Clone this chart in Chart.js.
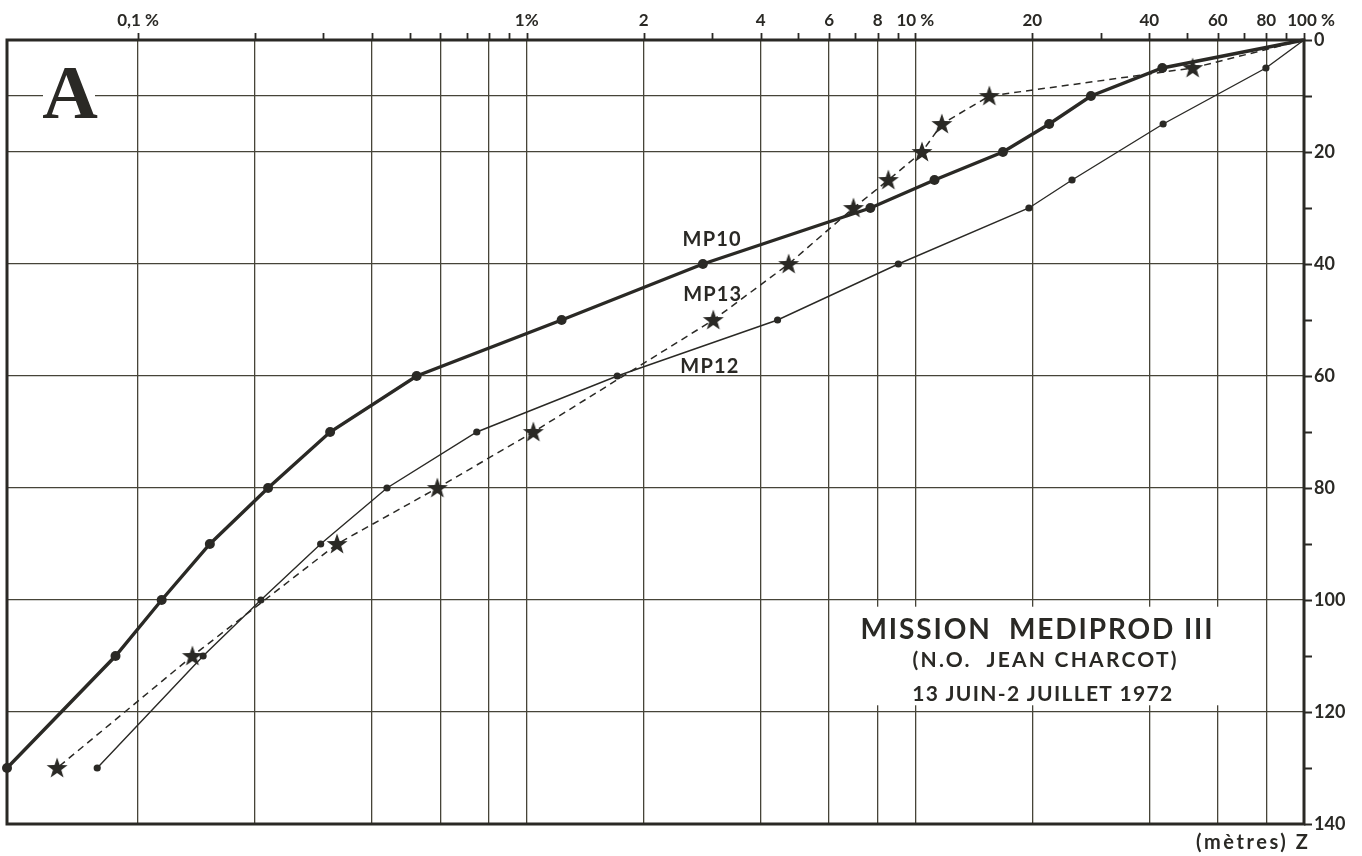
<!DOCTYPE html>
<html>
<head>
<meta charset="utf-8">
<script src="https://cdn.jsdelivr.net/npm/chart.js@4.4.1/dist/chart.umd.min.js"></script>
<style>
  html, body { margin: 0; padding: 0; background: #ffffff; }
  canvas { display: block; }
</style>
</head>
<body>
<canvas id="chart" width="1362" height="856"></canvas>
<script>
// Cumulative light (% of surface) versus depth (m) at three stations
const mp10Depth = [0, 5, 10, 15, 20, 25, 30, 40, 50, 60, 70, 80, 90, 100, 110, 130];
const mp10Pct   = [100, 43.2, 28.3, 22.1, 16.8, 11.2, 7.66, 2.84, 1.23, 0.521, 0.312, 0.216, 0.153, 0.115, 0.0875, 0.046];

const mp12Depth = [0, 5, 15, 25, 30, 40, 50, 60, 70, 80, 90, 100, 110, 130];
const mp12Pct   = [100, 79.8, 43.4, 25.3, 19.6, 9.04, 4.42, 1.71, 0.744, 0.437, 0.295, 0.207, 0.147, 0.0785];

const mp13Depth = [0, 5, 10, 15, 20, 25, 30, 40, 50, 70, 80, 90, 110, 130];
const mp13Pct   = [100, 51.7, 15.5, 11.7, 10.4, 8.52, 6.93, 4.72, 3.02, 1.04, 0.589, 0.325, 0.138, 0.0619];

// Percentage axis (logarithmic, on top)
const pctMin = 0.046;
const pctMax = 100;
const pctTickValues = [0.1, 0.2, 0.3, 0.4, 0.5, 0.6, 0.7, 0.8, 0.9,
                       1, 2, 3, 4, 5, 6, 7, 8, 9,
                       10, 20, 30, 40, 50, 60, 70, 80, 90, 100];
const pctGridValues = [0.1, 0.2, 0.4, 0.6, 0.8, 1, 2, 4, 6, 8, 10, 20, 40, 60, 80];
const pctLabelValues = [0.1, 1, 2, 4, 6, 8, 10, 20, 40, 60, 80, 100];
const pctLabelTexts  = ['0,1 %', '1%', '2', '4', '6', '8', '10 %', '20', '40', '60', '80', '100 %'];

// Depth axis (metres, on the right)
const depthMin = 0;
const depthMax = 140;
const depthTickStep = 10;
const depthLabelStep = 20;
const depthGridValues = [10, 20, 40, 60, 80, 100, 120];

// Curve names, placed in data coordinates [percent, depth]
const curveNames = ['MP10', 'MP13', 'MP12'];
const curveNameAnchors = [[2.99, 35.6], [3.0, 45.4], [2.95, 58.3]];

// Title block: text lines and their anchors [percent, depth]
const titleLines = ['MISSION  MEDIPROD III', '(N.O.  JEAN CHARCOT)', '13 JUIN-2 JUILLET 1972'];
const titleAnchors = [[20.5, 105.4], [21.5, 110.8], [21.2, 116.9]];
const titleField = [6.6, 72, 101.2, 118.8];   // percent from, percent to, depth from, depth to
const panelLetter = 'A';
const depthUnit = '(mètres) Z';

const INK = '#2a2925';
const GRID = 'rgb(70,68,56)';
const SANS = 'Lato, "Noto Sans", "DejaVu Sans", sans-serif';

const near = (a, list) => list.some(v => Math.abs(v - a) / v < 1e-6);
const toPoints = (pct, depth) => pct.map((p, i) => ({ x: p, y: depth[i] }));

function makeStar(outer, inner, color) {
  const size = 24;
  const c = document.createElement('canvas');
  c.width = size; c.height = size;
  const g = c.getContext('2d');
  g.fillStyle = color;
  g.beginPath();
  for (let i = 0; i < 10; i++) {
    const r = i % 2 ? inner : outer;
    const a = -Math.PI / 2 + i * Math.PI / 5;
    const px = size / 2 + r * Math.cos(a);
    const py = size / 2 + 0.6 + r * Math.sin(a);
    if (i) g.lineTo(px, py); else g.moveTo(px, py);
  }
  g.closePath();
  g.fill();
  return c;
}
const starMark = makeStar(11, 4.4, INK);

// Draw text stretched to a given width by spreading the letters
function spreadText(ctx, text, cx, cy, font, width) {
  ctx.font = font;
  ctx.letterSpacing = '0px';
  const w0 = ctx.measureText(text).width;
  const n = [...text].length;
  const ls = n > 1 ? (width - w0) / (n - 1) : 0;
  ctx.letterSpacing = ls.toFixed(2) + 'px';
  ctx.textAlign = 'left';
  ctx.textBaseline = 'middle';
  ctx.fillText(text, cx - width / 2, cy);
  ctx.letterSpacing = '0px';
}

const decorations = {
  id: 'decorations',
  beforeDatasetsDraw(chart) {
    const { ctx, chartArea: a, scales } = chart;
    const xs = scales.x, ys = scales.y;
    ctx.save();

    // white field behind the panel letter and the title block
    ctx.fillStyle = '#ffffff';
    ctx.fillRect(43, 66, 52, 50);
    const tl = xs.getPixelForValue(titleField[0]), tr = xs.getPixelForValue(titleField[1]);
    const tt = ys.getPixelForValue(titleField[2]), tb = ys.getPixelForValue(titleField[3]);
    ctx.fillRect(tl, tt, tr - tl, tb - tt);

    // frame
    ctx.strokeStyle = INK;
    ctx.lineWidth = 3;
    ctx.strokeRect(a.left, a.top, a.right - a.left, a.bottom - a.top);

    // tick marks outside the frame
    ctx.lineWidth = 1.8;
    ctx.beginPath();
    pctTickValues.forEach(v => {
      const x = Math.round(xs.getPixelForValue(v)) + 0.5;
      ctx.moveTo(x, a.top);
      ctx.lineTo(x, a.top - 7);
    });
    for (let d = depthMin; d <= depthMax; d += depthTickStep) {
      const y = Math.round(ys.getPixelForValue(d)) + 0.5;
      ctx.moveTo(a.right, y);
      ctx.lineTo(a.right + 8, y);
    }
    ctx.stroke();

    // panel letter
    ctx.fillStyle = INK;
    ctx.font = 'bold 77px "Liberation Serif", "DejaVu Serif", serif';
    ctx.textAlign = 'center';
    ctx.textBaseline = 'alphabetic';
    ctx.fillText(panelLetter, 70, 118);

    // percentage labels above the top axis
    ctx.font = 'bold 17px ' + SANS;
    ctx.textBaseline = 'middle';
    pctLabelValues.forEach((v, i) => {
      const x = xs.getPixelForValue(v);
      const text = pctLabelTexts[i];
      if (v === pctMax) {
        const num = text.replace(/\s*%$/, '');
        const wNum = ctx.measureText(num).width;
        ctx.textAlign = 'left';
        ctx.fillText(text, x - wNum / 2 - 2, 21);
      } else {
        ctx.textAlign = 'center';
        ctx.fillText(text, x, 21);
      }
    });

    // title block
    const titleFonts = ['bold 28px ' + SANS, 'bold 21px ' + SANS, 'bold 21px ' + SANS];
    const titleWidths = [352, 264, 260];
    titleLines.forEach((line, i) => {
      const [p, d] = titleAnchors[i];
      spreadText(ctx, line, xs.getPixelForValue(p), ys.getPixelForValue(d), titleFonts[i], titleWidths[i]);
    });

    // curve names
    curveNames.forEach((name, i) => {
      const [p, d] = curveNameAnchors[i];
      spreadText(ctx, name, xs.getPixelForValue(p), ys.getPixelForValue(d), 'bold 20px ' + SANS, 58);
    });

    // depth unit under the right axis
    spreadText(ctx, depthUnit, a.right - 52, a.bottom + 19, 'bold 20px ' + SANS, 112);

    ctx.restore();
  }
};

new Chart(document.getElementById('chart'), {
  type: 'scatter',
  data: {
    datasets: [
      {
        label: 'MP10',
        data: toPoints(mp10Pct, mp10Depth),
        showLine: true,
        borderColor: INK,
        borderWidth: 3.4,
        pointBackgroundColor: INK,
        pointBorderColor: INK,
        pointBorderWidth: 0,
        pointRadius: c => (c.dataIndex === 0 ? 0 : 5),
        clip: false
      },
      {
        label: 'MP12',
        data: toPoints(mp12Pct, mp12Depth),
        showLine: true,
        borderColor: INK,
        borderWidth: 1.4,
        pointBackgroundColor: INK,
        pointBorderColor: INK,
        pointBorderWidth: 0,
        pointRadius: c => (c.dataIndex === 0 ? 0 : 3.6),
        clip: false
      },
      {
        label: 'MP13',
        data: toPoints(mp13Pct, mp13Depth),
        showLine: true,
        borderColor: INK,
        borderWidth: 1.5,
        borderDash: [7, 5],
        pointStyle: c => (c.dataIndex === 0 ? 'circle' : starMark),
        pointRadius: c => (c.dataIndex === 0 ? 0 : 10),
        clip: false
      }
    ]
  },
  options: {
    responsive: false,
    animation: false,
    devicePixelRatio: 1,
    layout: { autoPadding: false, padding: { left: 7, top: 0, right: 0, bottom: 32 } },
    plugins: {
      legend: { display: false },
      tooltip: { enabled: false }
    },
    scales: {
      x: {
        type: 'logarithmic',
        position: 'top',
        min: pctMin,
        max: pctMax,
        afterBuildTicks: s => { s.ticks = pctTickValues.map(v => ({ value: v })); },
        afterFit: s => { s.height = 40; },
        ticks: { display: false },
        border: { display: false },
        grid: {
          drawTicks: false,
          lineWidth: 1.3,
          color: c => (c.tick && near(c.tick.value, pctGridValues) ? GRID : 'rgba(0,0,0,0)')
        }
      },
      y: {
        type: 'linear',
        position: 'right',
        reverse: true,
        min: depthMin,
        max: depthMax,
        afterFit: s => { s.width = 58; },
        ticks: {
          stepSize: depthTickStep,
          padding: 10,
          color: INK,
          font: { family: SANS, size: 18, weight: 'bold' },
          callback: v => (v % depthLabelStep === 0 ? String(v) : '')
        },
        border: { display: false },
        grid: {
          drawTicks: false,
          lineWidth: 1.3,
          color: c => (c.tick && depthGridValues.includes(c.tick.value) ? GRID : 'rgba(0,0,0,0)')
        }
      }
    }
  },
  plugins: [decorations]
});
</script>
</body>
</html>
